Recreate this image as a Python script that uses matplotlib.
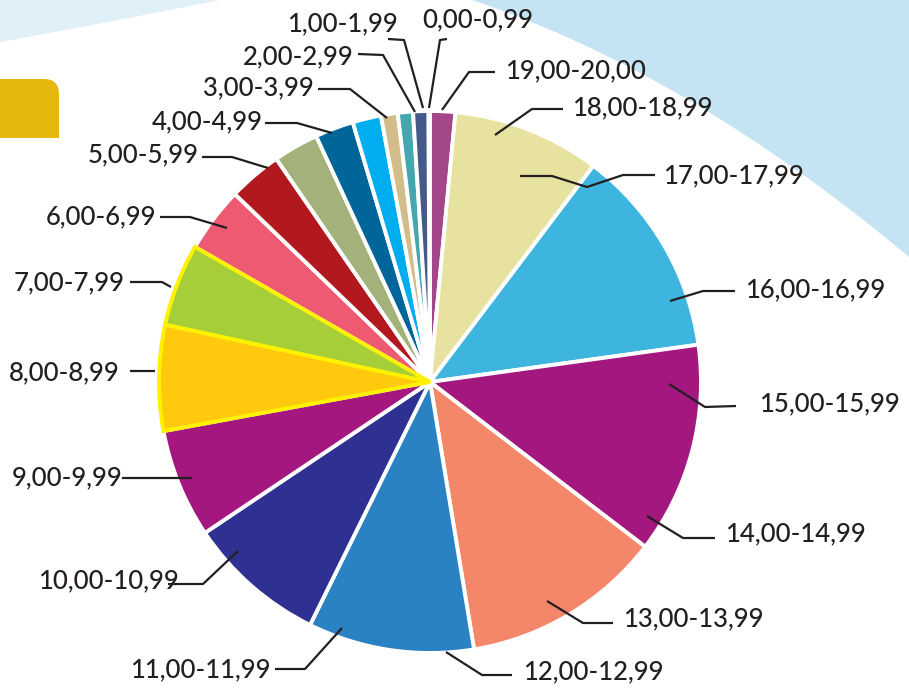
import numpy as np
import matplotlib.pyplot as plt
from matplotlib.patches import Polygon, PathPatch
from matplotlib.path import Path

# slice shares (%) clockwise from the top
slice_values = [1.5, 8.8, 12.5, 12.6, 12.0, 9.9, 8.3, 6.5, 6.3, 4.9,
                3.9, 3.2, 2.7, 2.3, 1.7, 1.0, 0.9, 0.9]
slice_colors = ['#a4468a', '#e8e2a0', '#3db5df', '#a3177f', '#f48669',
                '#2b82c3', '#2e3192', '#a3177f', '#ffc90e', '#a6ce39',
                '#ef5a73', '#b2191e', '#a2b27a', '#006699', '#00aeef',
                '#d2bd8a', '#45a6b0', '#465a8a']
highlight = [8, 9]  # slices with a yellow outline

categories = ['0,00-0,99', '1,00-1,99', '2,00-2,99', '3,00-3,99', '4,00-4,99',
              '5,00-5,99', '6,00-6,99', '7,00-7,99', '8,00-8,99', '9,00-9,99',
              '10,00-10,99', '11,00-11,99', '12,00-12,99', '13,00-13,99',
              '14,00-14,99', '15,00-15,99', '16,00-16,99', '17,00-17,99',
              '18,00-18,99', '19,00-20,00']

# label layout in pixels: text left/centre, then leader line points
label_pos = [(422, 20), (287, 24), (243, 57), (203, 88), (152, 122),
             (88, 155), (46, 217), (14, 283), (9, 373), (12, 478),
             (38, 581), (130, 670), (523, 672), (623, 619), (725, 534),
             (759, 404), (745, 290), (663, 176), (572, 108), (505, 71)]
leaders = [
    [(447, 39), (440, 40), (429, 108)],
    [(388, 39), (404, 40), (423, 108)],
    [(358, 54), (383, 55), (415, 112)],
    [(318, 89), (350, 89), (387, 118)],
    [(265, 123), (297, 123), (332, 133)],
    [(202, 157), (232, 157), (268, 168)],
    [(160, 217), (190, 217), (227, 228)],
    [(130, 282), (162, 282), (171, 287)],
    [(130, 371), (155, 371)],
    [(122, 478), (192, 478)],
    [(168, 584), (203, 584), (238, 551)],
    [(275, 669), (305, 669), (342, 628)],
    [(512, 675), (482, 675), (446, 652)],
    [(613, 623), (583, 623), (547, 601)],
    [(715, 538), (683, 538), (647, 516)],
    [(736, 406), (705, 407), (669, 384)],
    [(735, 291), (703, 291), (670, 301)],
    [(655, 175), (623, 175), (587, 187), (552, 176), (520, 176)],
    [(563, 109), (532, 109), (495, 135)],
    [(495, 72), (469, 72), (442, 110)],
]

W, H = 909, 689
CX, CY, R = 430, 382, 271


def px(x, y):
    return ((x - CX) / R, (CY - y) / R)


def quad(p0, p1, p2, n=60):
    t = np.linspace(0, 1, n)[:, None]
    p0, p1, p2 = map(np.array, (p0, p1, p2))
    return (1 - t) ** 2 * p0 + 2 * (1 - t) * t * p1 + t ** 2 * p2


fig = plt.figure(figsize=(W / 100, H / 100), dpi=100)
ax = fig.add_axes([0, 0, 1, 1])

# background shapes
curve = quad((472, 0), (689, 73), (909, 257))
pts = list(curve) + [(930, 257), (930, -10), (472, -10)]
ax.add_patch(Polygon([px(*p) for p in pts], closed=True, fc='#c5e4f3', ec='none', zorder=0))

band = quad((0, 42), (95, 25), (220, 0))
pts = list(band) + [(220, -10), (-10, -10), (-10, 42)]
ax.add_patch(Polygon([px(*p) for p in pts], closed=True, fc='#e0f0f8', ec='none', zorder=0))

verts = [px(-5, 138), px(-5, 79), px(44, 79), px(59, 79), px(59, 94), px(59, 138), px(-5, 138)]
codes = [Path.MOVETO, Path.LINETO, Path.LINETO, Path.CURVE3, Path.CURVE3, Path.LINETO, Path.CLOSEPOLY]
ax.add_patch(PathPatch(Path(verts, codes), fc='#e6b80b', ec='none', zorder=0))

wedges, _ = ax.pie(np.array(slice_values) / 100, colors=slice_colors, startangle=90,
                   counterclock=False, normalize=False, radius=1,
                   wedgeprops=dict(edgecolor='white', linewidth=2.8))
for w in wedges:
    w.set_zorder(2)
for i in highlight:
    wedges[i].set_edgecolor('#fff200')
    wedges[i].set_linewidth(2.8)
    wedges[i].set_zorder(3)

for name, (tx, ty), line in zip(categories, label_pos, leaders):
    xs, ys = zip(*[px(*p) for p in line])
    ax.plot(xs, ys, color='#231f20', lw=1.6, solid_capstyle='butt', zorder=4)
    x, y = px(tx, ty)
    ax.text(x, y, name, ha='left', va='center', fontsize=18.5, fontweight='medium',
            family=['Lato', 'DejaVu Sans'], color='#231f20', zorder=5)

ax.set_xlim(-CX / R, (W - CX) / R)
ax.set_ylim((CY - H) / R, CY / R)
ax.axis('off')

fig.savefig('out.png', dpi=100)
